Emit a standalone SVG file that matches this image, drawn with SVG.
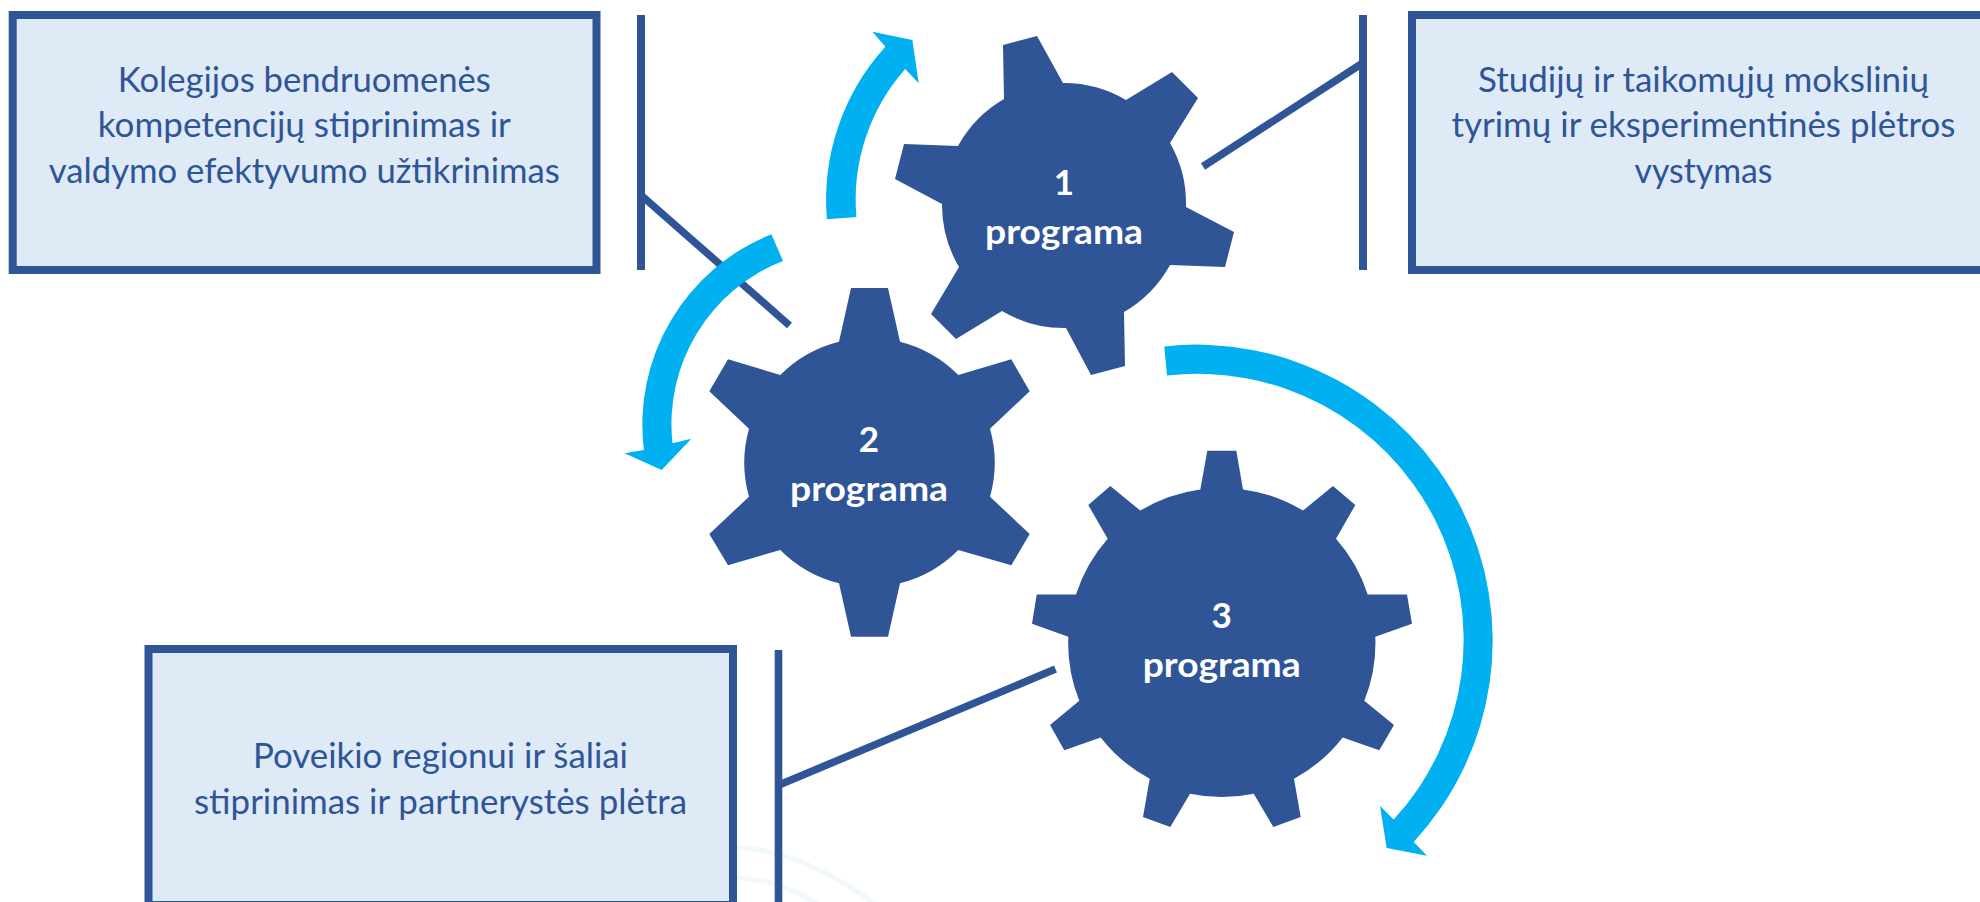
<svg xmlns="http://www.w3.org/2000/svg" width="1980" height="902" viewBox="0 0 1980 902">
<style>
.box{fill:#DEEAF6;stroke:#2F5597;stroke-width:8}
.gear{fill:#2F5597}
.bar{fill:#2F5597}
.link{stroke:#2F5597;stroke-width:7.5;fill:none}
.arrow{fill:#00B0F0}
.faint{stroke:#F1F9FD;stroke-width:5;fill:none}
text{font-family:"Lato","Noto Sans","Liberation Sans",sans-serif;text-anchor:middle}
.t{font-size:35px;fill:#2F5597}
.g{font-size:35px;font-weight:700;fill:#FFFFFF}
</style>
<rect width="1980" height="902" fill="#FFFFFF"/>
<g id="watermark">
<path class="faint" d="M737 847Q805 852 875 904"/>
<path class="faint" d="M737 878Q780 880 818 904"/>
</g>
<g id="connectors">
<rect class="bar" x="637" y="15" width="8" height="255"/>
<line class="link" x1="642" y1="196" x2="789.5" y2="325.5"/>
<rect class="bar" x="1359" y="15" width="8" height="255"/>
<line class="link" x1="1362" y1="63.5" x2="1203" y2="166.5"/>
<rect class="bar" x="774.7" y="650" width="7.6" height="252"/>
<line class="link" x1="779" y1="785" x2="1055.5" y2="669"/>
</g>
<g id="arrow-1"><path class="arrow" d="M826.9 219.3A227.5 227.5 0 0 1 885.4 46.7L872.4 31.7L912.4 40L918.7 83.3L905.2 69A197.5 197.5 0 0 0 856.4 217Z"/></g>
<g id="arrow-2"><path class="arrow" d="M771.4 234.3A205 205 0 0 0 643.9 450L624.5 453.3L661.7 470L691.3 438.7L672.5 443.3A175 175 0 0 1 783 261Z"/></g>
<g id="arrow-3"><path class="arrow" d="M1164.3 346.4A296 296 0 0 1 1413.7 841.9L1427 855.7L1386.7 848L1380 806L1393.7 819.6A266 266 0 0 0 1167 375.6Z"/></g>
<g id="box-1">
<rect class="box" x="12.7" y="15" width="583.8" height="255"/>
<text class="t" x="304.3" y="91.7" textLength="373" lengthAdjust="spacingAndGlyphs">Kolegijos bendruomenės</text>
<text class="t" x="304.3" y="137.3" textLength="413" lengthAdjust="spacingAndGlyphs">kompetencijų stiprinimas ir</text>
<text class="t" x="304.3" y="183.3" textLength="511" lengthAdjust="spacingAndGlyphs">valdymo efektyvumo užtikrinimas</text>
</g>
<g id="box-2">
<rect class="box" x="1412" y="15" width="580" height="255"/>
<text class="t" x="1703.5" y="91.7" textLength="451" lengthAdjust="spacingAndGlyphs">Studijų ir taikomųjų mokslinių</text>
<text class="t" x="1703.5" y="137.3" textLength="504" lengthAdjust="spacingAndGlyphs">tyrimų ir eksperimentinės plėtros</text>
<text class="t" x="1703.5" y="183.3" textLength="138" lengthAdjust="spacingAndGlyphs">vystymas</text>
</g>
<g id="box-3">
<rect class="box" x="148.5" y="649" width="584.5" height="256"/>
<text class="t" x="440.5" y="767.7" textLength="375" lengthAdjust="spacingAndGlyphs">Poveikio regionui ir šaliai</text>
<text class="t" x="440.5" y="813.5" textLength="493" lengthAdjust="spacingAndGlyphs">stiprinimas ir partnerystės plėtra</text>
</g>
<g id="gear-1">
<path class="gear" d="M1003 45L1037 36L1063 83A122 122 0 0 1 1126 100L1172 72L1198 98L1170 143A122 122 0 0 1 1186 207L1234 232L1225 267L1170 265A122 122 0 0 1 1124 312L1125 366L1091 375L1066 328A122 122 0 0 1 1002 311L956 339L931 314L959 267A122 122 0 0 1 942 204L895 179L904 144L958 146A122 122 0 0 1 1004 99Z"/>
<text class="g" x="1064" y="195">1</text>
<text class="g" x="1064" y="244" textLength="158" lengthAdjust="spacingAndGlyphs">programa</text>
</g>
<g id="gear-2">
<path class="gear" d="M851 288L888 288L900 341.7A125 125 0 0 1 958.3 375L1011.3 359.3L1029.7 391.3L990 428.7A125 125 0 0 1 990 496.7L1029.7 534L1011.3 565.3L958.3 550A125 125 0 0 1 900 583.3L888 636.7L851 636.7L839 583.3A125 125 0 0 1 780.3 550L728 565.3L709.3 534L749 496.7A125 125 0 0 1 749 428.7L709.3 391.3L728 359.3L780.3 375A125 125 0 0 1 839 341.7Z"/>
<text class="g" x="869" y="451.7">2</text>
<text class="g" x="869" y="500.7" textLength="158" lengthAdjust="spacingAndGlyphs">programa</text>
</g>
<g id="gear-3">
<path class="gear" d="M1207.3 450.8L1236.3 450.8L1243 489.4A154 154 0 0 1 1303 510.6L1333 486.1L1355.3 505.1L1336 538.7A154 154 0 0 1 1367.7 594.5L1407 594.5L1412 623.7L1375.3 636.8A154 154 0 0 1 1364.3 700.7L1394 725.1L1379.3 750.3L1342.7 737.5A154 154 0 0 1 1294 778.7L1300.7 817L1273.3 826.9L1253.7 793.7A154 154 0 0 1 1190 793.7L1170.3 826.9L1143 817L1149.7 778.7A154 154 0 0 1 1100.7 737.5L1064.3 750.3L1050 725.1L1079.3 700.7A154 154 0 0 1 1068.3 636.8L1032 623.7L1036.7 594.5L1076 594.5A154 154 0 0 1 1107.7 538.7L1088.3 505.1L1110.3 486.1L1140.3 510.6A154 154 0 0 1 1200.3 489.4Z"/>
<text class="g" x="1221.7" y="628.3">3</text>
<text class="g" x="1221.7" y="676.6" textLength="158" lengthAdjust="spacingAndGlyphs">programa</text>
</g>
</svg>
